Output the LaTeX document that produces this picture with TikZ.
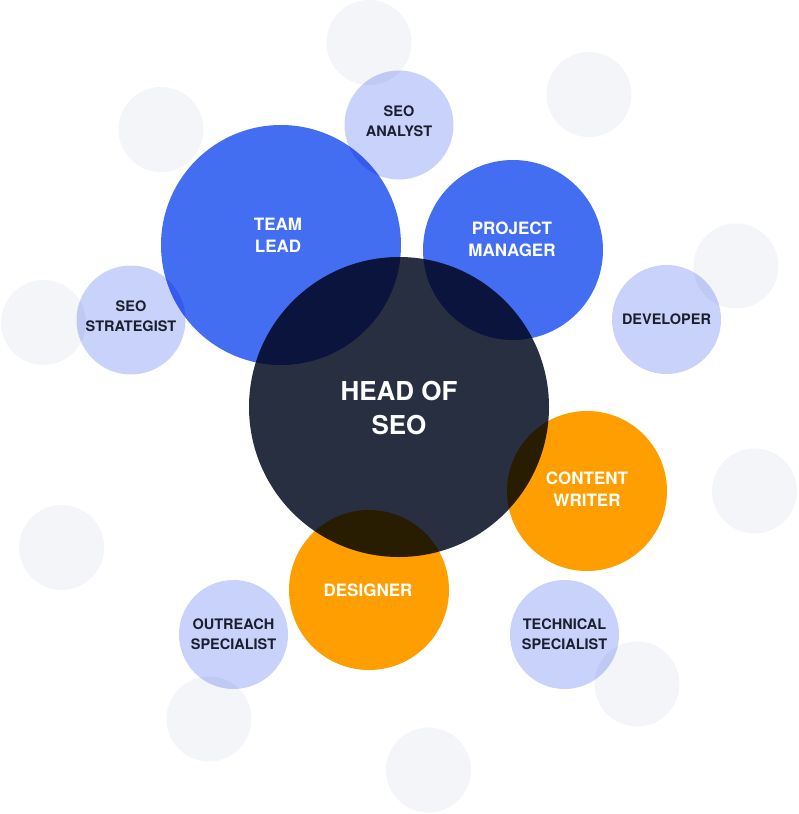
\documentclass[tikz,border=0pt]{standalone}
\usepackage{fontspec}
\setmainfont{TeX Gyre Heros}
\definecolor{navy}{HTML}{282F40}
\definecolor{bluec}{HTML}{446EF2}
\definecolor{orangec}{HTML}{FF9E00}
\definecolor{lav}{HTML}{C8D2FA}
\definecolor{greyc}{HTML}{F4F5F9}
\definecolor{ink}{HTML}{1A1F2E}
\tikzset{
  bub/.style={circle, inner sep=0pt, draw=none},
  greybub/.style={bub, fill=greyc, minimum size=85pt},
  lavbub/.style={bub, fill=lav, minimum size=109pt},
  biglabel/.style={text=white, font=\fontsize{26}{34}\selectfont\bfseries, align=center},
  midlabel/.style={text=white, font=\fontsize{17}{22}\selectfont\bfseries, align=center},
  smalllabel/.style={text=ink, font=\fontsize{14.5}{20}\selectfont\bfseries, align=center}
}
\begin{document}
\begin{tikzpicture}[x=1pt,y=-1pt]
\useasboundingbox (0,0) rectangle (798,814);
\begin{scope}[blend group=multiply]
  % grey background bubbles
  \node[greybub] (g1) at (369,42.5) {};
  \node[greybub] (g2) at (589,94.5) {};
  \node[greybub] (g3) at (161,129.5) {};
  \node[greybub] (g4) at (736,266) {};
  \node[greybub] (g5) at (43.5,322.5) {};
  \node[greybub] (g6) at (754.5,491) {};
  \node[greybub] (g7) at (61.7,547.5) {};
  \node[greybub] (g8) at (637,684) {};
  \node[greybub] (g9) at (209,719) {};
  \node[greybub] (g10) at (428.5,770) {};
  % lavender bubbles
  \node[lavbub] (analyst) at (399,125) {};
  \node[lavbub] (strategist) at (131,320) {};
  \node[lavbub] (developer) at (666.5,319.5) {};
  \node[lavbub] (outreach) at (233.5,634.5) {};
  \node[lavbub] (technical) at (564.5,634.5) {};
  % blue bubbles
  \node[bub, fill=bluec, minimum size=240pt] (teamlead) at (281,245) {};
  \node[bub, fill=bluec, minimum size=180pt] (pm) at (513,250) {};
  % orange bubbles
  \node[bub, fill=orangec, minimum size=160pt] (writer) at (587,491) {};
  \node[bub, fill=orangec, minimum size=160pt] (designer) at (369,590) {};
  % head
  \node[bub, fill=navy, minimum size=300pt] (head) at (399,407) {};
\end{scope}
% labels
\node[biglabel] (headtxt) at ([yshift=-1pt]head.center) {HEAD OF\\SEO};
\node[midlabel] (tltxt) at ([xshift=-3pt,yshift=9.5pt]teamlead.center) {TEAM\\LEAD};
\node[midlabel] (pmtxt) at ([xshift=-1pt,yshift=11pt]pm.center) {PROJECT\\MANAGER};
\node[midlabel] (wrtxt) at ([yshift=1.5pt]writer.center) {CONTENT\\WRITER};
\node[midlabel] (dstxt) at ([xshift=-1pt]designer.center) {DESIGNER};
\node[smalllabel] (antxt) at ([yshift=4pt]analyst.center) {SEO\\ANALYST};
\node[smalllabel] (sttxt) at ([yshift=4pt]strategist.center) {SEO\\STRATEGIST};
\node[smalllabel] (dvtxt) at (developer.center) {DEVELOPER};
\node[smalllabel] (ortxt) at (outreach.center) {OUTREACH\\SPECIALIST};
\node[smalllabel] (tctxt) at (technical.center) {TECHNICAL\\SPECIALIST};
\end{tikzpicture}
\end{document}
